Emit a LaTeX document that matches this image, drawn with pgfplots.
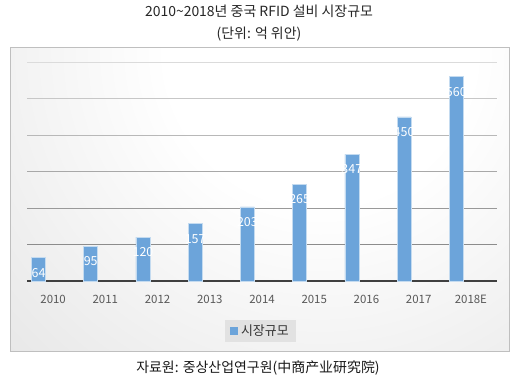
\documentclass[border=0pt]{standalone}
\usepackage{fontspec}
\setmainfont{Noto Sans CJK KR}
\usepackage{pgfplots}
\pgfplotsset{compat=1.18}
\definecolor{barblue}{HTML}{6CA4DA}
\definecolor{ticktext}{HTML}{595959}
\definecolor{legbg}{HTML}{E2E2E2}
\pgfdeclareradialshading{panel}{\pgfpoint{0bp}{0bp}}{color(0bp)=(white); color(8bp)=(white); color(50bp)=(black!26)}
\begin{document}
\begin{tikzpicture}[x=1bp,y=1bp]
\useasboundingbox (0,0) rectangle (517,-380);
\fill[white] (0,0) rectangle (517,-380);
\begin{scope}
\clip (10,-47) rectangle (509,-351);
\shade[shading=panel] (320,-50) circle (480);
\end{scope}
\draw[black!25] (10,-47) rectangle (509,-351);
\node[font=\fontsize{14}{16}\selectfont, text=black!85] at (259,-11) {2010\char`~2018년 중국 RFID 설비 시장규모};
\node[font=\fontsize{14}{16}\selectfont, text=black!85] at (259,-34) {(단위: 억 위안)};
\node[font=\fontsize{14}{16}\selectfont, text=black!90] at (258,-368) {자료원: 중상산업연구원(中商产业研究院)};
\begin{axis}[
  at={(27bp,-281bp)}, anchor=south west,
  scale only axis, width=470bp, height=219bp,
  ymin=0, ymax=600, xmin=-0.5, xmax=8.5,
  axis x line*=bottom, axis y line*=left,
  x axis line style={draw=black!75, line width=2bp},
  y axis line style={draw=none},
  ytick=\empty,
  xtick={0,...,8},
  xticklabels={2010,2011,2012,2013,2014,2015,2016,2017,2018E},
  major tick length=0pt,
  /pgf/number format/assume math mode=true,
  xticklabel style={text=ticktext, font=\fontsize{11.5}{13}\selectfont, yshift=-11bp},
  ybar, bar width=14bp, bar shift=-14.6bp,
  nodes near coords,
  every node near coord/.append style={text=white, font=\fontsize{12.5}{14}\selectfont, anchor=center, yshift=-15bp},
  legend style={at={(0.496,-0.228)}, anchor=center, fill=legbg, draw=none, font=\fontsize{13}{15}\selectfont, text=black!80, inner xsep=5bp, inner ysep=3bp, column sep=2bp},
  legend image code/.code={\fill[barblue] (0bp,-3.5bp) rectangle (7bp,3.5bp);},
  clip=false,
]
\draw[black!45, line width=0.7bp] (axis cs:-0.5,100) -- (axis cs:8.5,100);
\draw[black!40, line width=0.7bp] (axis cs:-0.5,200) -- (axis cs:8.5,200);
\draw[black!34, line width=0.7bp] (axis cs:-0.5,300) -- (axis cs:8.5,300);
\draw[black!28, line width=0.7bp] (axis cs:-0.5,400) -- (axis cs:8.5,400);
\draw[black!22, line width=0.7bp] (axis cs:-0.5,500) -- (axis cs:8.5,500);
\draw[black!14, line width=0.7bp] (axis cs:-0.5,600) -- (axis cs:8.5,600);
\addplot[fill=barblue, draw=white!60!barblue, line width=0.5bp] coordinates {
(0,64) (1,95) (2,120) (3,157) (4,203) (5,265) (6,347) (7,450) (8,560)};
\addlegendentry{시장규모}
\end{axis}
\end{tikzpicture}
\end{document}
